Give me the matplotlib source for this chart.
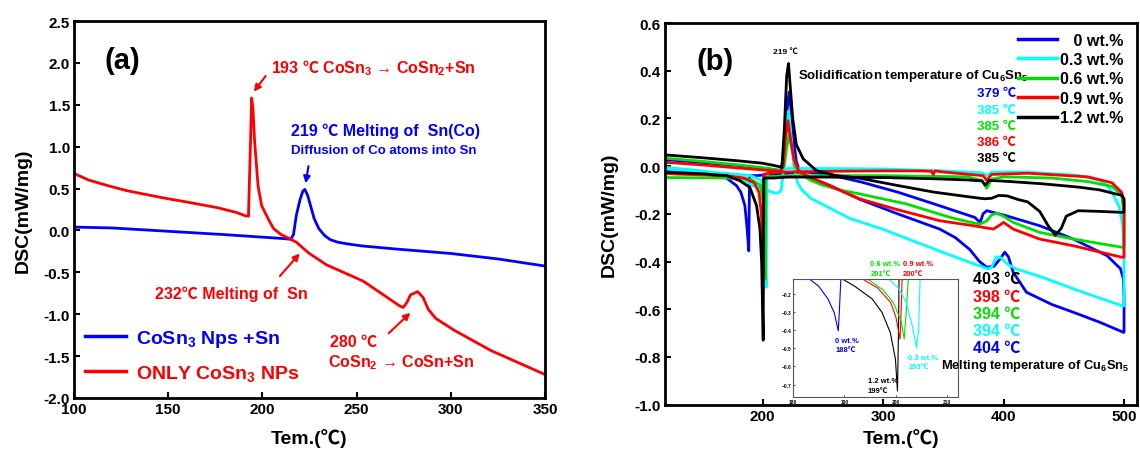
import matplotlib
matplotlib.use('Agg')
import matplotlib.pyplot as plt
import numpy as np

FAM = ['Liberation Sans', 'Noto Sans CJK SC', 'DejaVu Sans']
plt.rcParams['font.family'] = FAM
plt.rcParams['font.weight'] = 'bold'
plt.rcParams['mathtext.fontset'] = 'custom'
plt.rcParams['mathtext.rm'] = 'Noto Sans CJK SC'
plt.rcParams['mathtext.bf'] = 'Liberation Sans:bold'
plt.rcParams['mathtext.it'] = 'Liberation Sans:italic:bold'
plt.rcParams['mathtext.default'] = 'regular'
plt.rcParams['axes.linewidth'] = 2

BLUE = '#0000ff'; RED = '#ff0000'; CYAN = '#00ffff'; GREEN = '#00e000'; BLACK = '#000000'

# ---------------- panel (a) data ----------------
a_blue_T = [100, 120, 150, 180, 200, 210, 215, 216.5, 218, 220, 221.5, 222.5, 224, 225.5, 227.5,
            230, 233, 236, 240, 245, 253, 270, 300, 325, 350]
a_blue_v = [0.04, 0.03, -0.01, -0.05, -0.08, -0.095, -0.105, -0.05, 0.18, 0.37, 0.47, 0.49, 0.42, 0.3, 0.14,
            0.02, -0.06, -0.11, -0.14, -0.16, -0.185, -0.22, -0.275, -0.34, -0.425]
a_red_T = [100, 108, 118.7, 128, 138, 147, 157.2, 167, 176.5, 186.1, 191, 192.6, 193.5, 194.3, 195.0, 195.8,
           197.7, 199.6, 203.5, 206, 210, 215, 218, 220.8, 224.6, 234, 244, 253.5, 263, 272.8, 274.7,
           276.7, 278.6, 282.4, 285.3, 288, 292, 301.7, 321, 350]
a_red_v = [0.68, 0.6, 0.53, 0.475, 0.43, 0.39, 0.35, 0.31, 0.27, 0.215, 0.175, 0.17, 0.9, 1.58, 1.45, 1.085,
           0.53, 0.295, 0.12, 0.02, -0.05, -0.105, -0.14, -0.195, -0.27, -0.41, -0.51, -0.605, -0.75,
           -0.9, -0.92, -0.86, -0.77, -0.73, -0.8, -0.94, -1.05, -1.19, -1.43, -1.72]
a_labels = ['CoSn$_3$ Nps +Sn', 'ONLY CoSn$_3$ NPs']

# ---------------- panel (b) data ----------------
b_labels = ['0 wt.%', '0.3 wt.%', '0.6 wt.%', '0.9 wt.%', '1.2 wt.%']
b_colors = [BLUE, CYAN, GREEN, RED, BLACK]

# 0 wt.%
blue_heat_T = [119, 150, 180, 205, 215, 218, 220, 222, 224, 226, 228, 231, 240, 253, 264, 281, 312, 347,
               360, 372, 380, 386, 392, 397, 401, 404, 408, 419, 440, 458, 480, 499.5]
blue_heat_v = [0.027, 0.015, 0.003, -0.012, -0.018, 0.05, 0.22, 0.31, 0.22, 0.1, 0.02, -0.026, -0.05,
               -0.075, -0.1, -0.14, -0.2, -0.264, -0.3, -0.35, -0.4, -0.424, -0.42, -0.39, -0.361, -0.38,
               -0.445, -0.529, -0.58, -0.613, -0.655, -0.697]
blue_cool_T = [500, 500, 499.5, 497, 486, 458, 430, 400, 386, 383, 380.6, 376, 342, 312, 282, 252, 236,
               220, 205, 195, 189.2, 188.5, 187.2, 185.3, 182, 178.4, 170, 150, 119]
blue_cool_v = [-0.697, -0.55, -0.473, -0.43, -0.376, -0.306, -0.25, -0.205, -0.187, -0.2, -0.236, -0.215,
               -0.158, -0.109, -0.067, -0.032, -0.025, -0.03, -0.035, -0.04, -0.04, -0.355, -0.264,
               -0.166, -0.11, -0.082, -0.05, -0.03, -0.02]
# 0.3 wt.%
cyan_heat_T = [119, 150, 170, 185, 192, 200, 210, 214, 215.5, 217, 219, 221.5, 223.5, 226, 229, 233, 240,
               251.5, 272.6, 300, 342, 370, 387, 390, 394, 398, 403, 410, 432, 462, 498.5]
cyan_heat_v = [-0.005, -0.02, -0.04, -0.06, -0.082, -0.095, -0.113, -0.11, -0.1, -0.03, 0.1, 0.23, 0.13,
               0.0, -0.07, -0.102, -0.135, -0.165, -0.22, -0.265, -0.347, -0.4, -0.431, -0.425, -0.38,
               -0.385, -0.41, -0.43, -0.466, -0.522, -0.586]
cyan_cool_T = [500, 500, 499, 496, 490, 486, 480, 462, 420, 390, 386, 382, 350, 300, 250, 222, 212, 205,
               203.6, 203, 202.5, 202, 201, 199, 190, 170, 119]
cyan_cool_v = [-0.586, -0.4, -0.25, -0.17, -0.11, -0.081, -0.06, -0.039, -0.025, -0.025, -0.04, -0.028,
               -0.02, -0.012, -0.01, -0.01, -0.015, -0.03, -0.04, -0.508, -0.45, -0.3, -0.15, -0.06,
               -0.04, -0.03, -0.012]
# 0.6 wt.%
green_heat_T = [119, 150, 180, 205, 215, 218, 220, 222, 224, 227, 231, 240, 250, 264, 281, 319.6, 355.6,
                372, 380.4, 386, 390, 394.3, 400, 408, 430, 458, 498]
green_heat_v = [0.033, 0.02, 0.005, -0.01, -0.02, 0.0, 0.08, 0.13, 0.08, 0.0, -0.03, -0.06, -0.08, -0.1,
                -0.117, -0.159, -0.215, -0.235, -0.243, -0.23, -0.205, -0.197, -0.21, -0.236, -0.278,
                -0.306, -0.34]
green_cool_T = [500, 500, 498, 490, 470, 440, 400, 390, 386, 382, 370, 300, 250, 215, 204, 202.7, 202.3,
                201.5, 200.5, 198, 190, 170, 119]
green_cool_v = [-0.34, -0.2, -0.12, -0.085, -0.065, -0.05, -0.045, -0.055, -0.093, -0.06, -0.045, -0.04,
                -0.04, -0.042, -0.045, -0.047, -0.473, -0.3, -0.15, -0.08, -0.055, -0.05, -0.048]
# 0.9 wt.%
red_heat_T = [119, 150, 180, 205, 215, 217, 219, 221, 223, 226, 230, 236.5, 258.6, 281, 310, 347, 375,
              391.5, 396, 400, 404, 408, 430, 458, 498]
red_heat_v = [0.016, 0.005, -0.008, -0.018, -0.022, 0.0, 0.12, 0.19, 0.12, 0.03, -0.02, -0.04, -0.089,
              -0.138, -0.18, -0.229, -0.25, -0.264, -0.25, -0.236, -0.25, -0.264, -0.306, -0.334, -0.382]
red_cool_T = [500, 500, 498, 490, 470, 420, 390, 386, 383, 350, 343, 341.7, 340, 330, 300, 250, 215, 205,
              201, 200.5, 200, 199, 197, 193, 185, 170, 126, 119]
red_cool_v = [-0.382, -0.15, -0.11, -0.07, -0.045, -0.03, -0.035, -0.06, -0.04, -0.025, -0.02, -0.035,
              -0.022, -0.02, -0.02, -0.022, -0.025, -0.03, -0.035, -0.46, -0.35, -0.2, -0.11, -0.07,
              -0.05, -0.04, -0.033, -0.03]
# 1.2 wt.%
black_heat_T = [119, 150, 180, 200, 212, 216, 218, 220, 221.5, 223, 225, 228, 233.7, 244.8, 261.4, 280.8,
                311.7, 342, 370, 384, 390, 396, 403, 412, 420, 430, 437, 443, 448, 452, 462, 480, 498.5]
black_heat_v = [0.047, 0.035, 0.022, 0.012, 0.0, -0.005, 0.15, 0.38, 0.43, 0.33, 0.2, 0.09, 0.03, -0.019,
                -0.04, -0.051, -0.081, -0.109, -0.128, -0.137, -0.135, -0.123, -0.125, -0.14, -0.15,
                -0.19, -0.25, -0.29, -0.26, -0.21, -0.187, -0.19, -0.194]
black_cool_T = [500, 500, 498, 492.5, 480, 462, 432, 400, 388, 385, 382, 370, 342, 300, 250, 221, 209,
                201, 200.5, 199.8, 199.2, 197.8, 195, 189.4, 181, 170, 150, 119]
black_cool_v = [-0.194, -0.137, -0.122, -0.116, -0.1, -0.088, -0.074, -0.063, -0.06, -0.08, -0.062,
                -0.058, -0.053, -0.048, -0.046, -0.046, -0.05, -0.05, -0.73, -0.55, -0.403, -0.264,
                -0.166, -0.089, -0.061, -0.04, -0.032, -0.026]

b_heat = [(blue_heat_T, blue_heat_v), (cyan_heat_T, cyan_heat_v), (green_heat_T, green_heat_v),
          (red_heat_T, red_heat_v), (black_heat_T, black_heat_v)]
b_cool = [(blue_cool_T, blue_cool_v), (cyan_cool_T, cyan_cool_v), (green_cool_T, green_cool_v),
          (red_cool_T, red_cool_v), (black_cool_T, black_cool_v)]

# inset data (solidification undercooling peaks)
in_blue_T = [183.2, 185, 186.8, 188, 188.8, 189.0, 189.3]
in_blue_v = [-0.12, -0.16, -0.23, -0.304, -0.405, -0.3, -0.12]
in_black_T = [189.6, 192, 195.4, 197.3, 198.9, 199.9, 200.3, 200.5, 200.6]
in_black_v = [-0.12, -0.16, -0.23, -0.304, -0.414, -0.56, -0.735, -0.4, -0.12]
in_red_T = [193.5, 196.5, 199, 200, 200.8, 201, 201.2]
in_red_v = [-0.12, -0.17, -0.25, -0.33, -0.45, -0.3, -0.12]
in_green_T = [194.5, 197.5, 199.5, 201, 201.6, 202, 202.4]
in_green_v = [-0.12, -0.18, -0.25, -0.35, -0.45, -0.3, -0.12]
in_cyan_T = [198.6, 200.5, 202, 203.2, 204, 204.4, 204.7]
in_cyan_v = [-0.12, -0.17, -0.25, -0.38, -0.5, -0.4, -0.12]
inset_series = [(in_blue_T, in_blue_v, BLUE), (in_black_T, in_black_v, BLACK), (in_red_T, in_red_v, RED),
                (in_green_T, in_green_v, GREEN), (in_cyan_T, in_cyan_v, CYAN)]

solid_temps = ['379', '385', '385', '386', '385']      # blue, cyan, green, red, black
melt_temps = ['403', '398', '394', '394', '404']       # black, red, green, cyan, blue
melt_colors = [BLACK, RED, GREEN, CYAN, BLUE]

# ---------------- figure ----------------
W, H = 1140, 456
fig = plt.figure(figsize=(W / 100, H / 100), dpi=100)
fig.patch.set_facecolor('white')

def px_axes(l, t, r, b):
    return fig.add_axes([l / W, 1 - b / H, (r - l) / W, (b - t) / H])

def style(ax):
    ax.tick_params(direction='in', length=4, width=1.5, labelsize=11, top=False, right=False, pad=3)
    for lab in ax.get_xticklabels() + ax.get_yticklabels():
        lab.set_fontweight('bold')

# ---- panel (a)
ax = px_axes(74, 22, 545, 399)
ax.plot(a_blue_T, a_blue_v, color=BLUE, lw=2, label=a_labels[0])
ax.plot(a_red_T, a_red_v, color=RED, lw=2, label=a_labels[1])
ax.set_xlim(100, 350)
ax.set_ylim(-2.0, 2.5)
ax.set_xticks([100, 150, 200, 250, 300, 350])
ax.set_yticks(np.arange(-2.0, 2.51, 0.5))
ax.set_yticklabels([f'{v:.1f}' for v in np.arange(-2.0, 2.51, 0.5)])
style(ax)
ax.set_xlabel('Tem.(℃)', fontsize=14, fontweight='bold')
ax.set_ylabel('DSC(mW/mg)', fontsize=14, fontweight='bold')
ax.yaxis.set_label_coords(-0.09, 0.5)
ax.xaxis.set_label_coords(0.5, -0.08)

ax.text(125.5, 2.03, '(a)', fontsize=21, fontweight='bold', ha='center', va='center')
ax.text(204.5, 1.95, '193 $\\mathrm{℃}$ CoSn$_3$ → CoSn$_2$+Sn', color=RED, fontsize=11.5,
        fontweight='bold', va='center')
ax.annotate('', xy=(194.6, 1.63), xytext=(202.6, 1.87),
            arrowprops=dict(arrowstyle='-|>', color=RED, lw=1.5, mutation_scale=10))
ax.text(215, 1.2, '219 ℃ Melting of  Sn(Co)', color=BLUE, fontsize=11.5, fontweight='bold', va='center')
ax.text(215, 0.96, 'Diffusion of Co atoms into Sn', color=BLUE, fontsize=9.5, fontweight='bold', va='center')
ax.annotate('', xy=(222.7, 0.53), xytext=(224.7, 0.8),
            arrowprops=dict(arrowstyle='-|>', color=BLUE, lw=1.5, mutation_scale=10))
ax.text(142.8, -0.75, '232℃ Melting of  Sn', color=RED, fontsize=11.5, fontweight='bold', va='center')
ax.annotate('', xy=(220.8, -0.25), xytext=(208.3, -0.57),
            arrowprops=dict(arrowstyle='-|>', color=RED, lw=1.5, mutation_scale=10))
ax.text(236, -1.32, '280 ℃', color=RED, fontsize=11.5, fontweight='bold', va='center')
ax.text(235, -1.57, 'CoSn$_2$ → CoSn+Sn', color=RED, fontsize=11.5, fontweight='bold', va='center')
ax.annotate('', xy=(279.6, -0.96), xytext=(266, -1.25),
            arrowprops=dict(arrowstyle='-|>', color=RED, lw=1.5, mutation_scale=10))
leg = ax.legend(loc='upper left', bbox_to_anchor=(0.024, 0.185), frameon=False, borderpad=0,
                borderaxespad=0, handlelength=2.1, handletextpad=0.5, labelspacing=0.7,
                labelcolor='linecolor', prop={'family': FAM, 'weight': 'bold', 'size': 14})
for l in leg.get_lines():
    l.set_linewidth(2.5)

# ---- panel (b)
bx = px_axes(665, 24, 1136.7, 405.6)
maxlen = max(len(s) for s in b_labels)
for (hT, hv), (cT, cv), col, lab in zip(b_heat, b_cool, b_colors, b_labels):
    pad = '' if len(lab) == maxlen else '   '
    bx.plot(np.concatenate([hT, cT]), np.concatenate([hv, cv]), color=col, lw=2, label=pad + lab)
bx.set_xlim(119, 510.5)
bx.set_ylim(-1.0, 0.6)
bx.set_xticks([200, 300, 400, 500])
bx.set_yticks(np.arange(-1.0, 0.61, 0.2))
bx.set_yticklabels([f'{v:.1f}' if abs(v) > 1e-9 else '0.0' for v in np.arange(-1.0, 0.61, 0.2)])
style(bx)
bx.set_xlabel('Tem.(℃)', fontsize=14, fontweight='bold')
bx.set_ylabel('DSC(mW/mg)', fontsize=14, fontweight='bold')
bx.yaxis.set_label_coords(-0.1, 0.5)
bx.xaxis.set_label_coords(0.5, -0.061)
legb = bx.legend(loc='upper right', bbox_to_anchor=(0.972, 0.975), frameon=False, borderpad=0,
                 borderaxespad=0, handlelength=2.45, handletextpad=0.2, labelspacing=0.28,
                 prop={'family': FAM, 'weight': 'bold', 'size': 11.5})
for l in legb.get_lines():
    l.set_linewidth(2.5)

bx.text(161, 0.44, '(b)', fontsize=21, fontweight='bold', ha='center', va='center')
bx.text(219, 0.48, '219 ℃', fontsize=6, fontweight='bold', ha='center', va='center')
bx.text(229, 0.382, 'Solidification temperature of Cu$_6$Sn$_5$', fontsize=9.5, fontweight='bold',
        va='center')
for i, (t, c) in enumerate(zip(solid_temps, b_colors)):
    bx.text(378, 0.305 - i * 0.068, f'{t} ℃', color=c, fontsize=9.5, fontweight='bold', va='center')
for i, (t, c) in enumerate(zip(melt_temps, melt_colors)):
    bx.text(375, -0.473 - i * 0.0718, f'{t} ℃', color=c, fontsize=11.5, fontweight='bold', va='center')

# inset labels above the inset
small = dict(fontsize=5.5, fontweight='bold', va='center', ha='left')
bx.text(289.5, -0.41, '0.6 wt.%', color=GREEN, **small)
bx.text(289.5, -0.449, '201℃', color=GREEN, **small)
bx.text(316.4, -0.41, '0.9 wt.%', color=RED, **small)
bx.text(316.4, -0.449, '200℃', color=RED, **small)

# ---- inset
ix = px_axes(793, 280, 957.7, 398.3)
for T, v, c in inset_series:
    ix.plot(T, v, color=c, lw=0.8)
ix.set_xlim(180, 212)
ix.set_ylim(-0.77, -0.12)
ix.set_xticks([180, 190, 200, 210])
ix.set_yticks([-0.7, -0.6, -0.5, -0.4, -0.3, -0.2])
ix.tick_params(direction='in', length=1.5, width=0.5, labelsize=3.5, pad=1)
for s in ix.spines.values():
    s.set_linewidth(0.8)
    s.set_color('#555555')
ix.text(188.2, -0.46, '0 wt.%', color=BLUE, **small)
ix.text(188.2, -0.51, '188℃', color=BLUE, **small)
ix.text(202.4, -0.55, '0.3 wt.%', color=CYAN, **small)
ix.text(202.4, -0.6, '203℃', color=CYAN, **small)
ix.text(194.5, -0.68, '1.2 wt.%', color=BLACK, **small)
ix.text(194.5, -0.73, '199℃', color=BLACK, **small)

# text drawn over the inset (figure-level text, placed in panel (b) data coordinates)
fig.text(348, -0.835, 'Melting temperature of Cu$_6$Sn$_5$', fontsize=9.3, fontweight='bold',
         va='center', transform=bx.transData)

fig.savefig('out.png', dpi=100, facecolor='white')
